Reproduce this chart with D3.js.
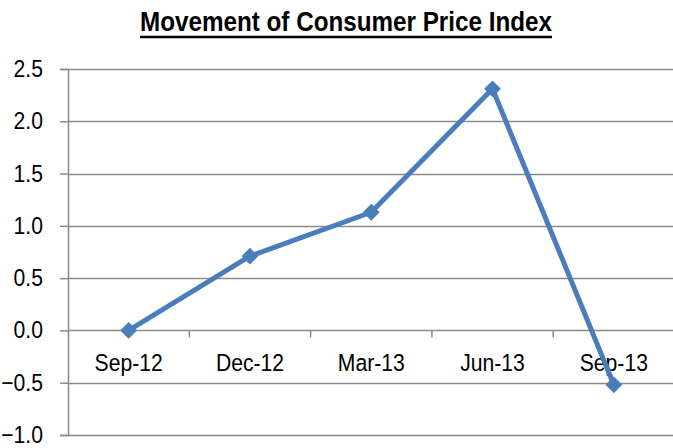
<!DOCTYPE html>
<html>
<head>
<meta charset="utf-8">
<script src="https://cdn.jsdelivr.net/npm/d3@7"></script>
<style>
  html, body { margin: 0; padding: 0; background: #fff; }
  svg { display: block; }
  text { font-family: "Liberation Sans Narrow", "Arial Narrow", "Liberation Sans", sans-serif; fill: #000; }
</style>
</head>
<body>
<svg id="chart" width="673" height="448"></svg>
<script>
const title = "Movement of Consumer Price Index";
const categories = ["Sep-12", "Dec-12", "Mar-13", "Jun-13", "Sep-13"];
const values = [0.0, 0.71, 1.13, 2.31, -0.52];
const yTicks = [-1.0, -0.5, 0.0, 0.5, 1.0, 1.5, 2.0, 2.5];

const svg = d3.select("#chart");
const W = 673, H = 448;
const mLeft = 68, mRight = 674.5, mTop = 69, mBottom = 435;
const sx = 0.9;       // horizontal condensing of label glyphs
const fs = 23.5;

const x = d3.scaleBand().domain(categories).range([mLeft, mRight]).padding(0);
const y = d3.scaleLinear().domain([-1.0, 2.5]).range([mBottom, mTop]);

const grid = "#8a8a8a";

// gridlines
svg.append("g").selectAll("line").data(yTicks).join("line")
  .attr("x1", mLeft).attr("x2", W)
  .attr("y1", d => Math.round(y(d)) + 0.5).attr("y2", d => Math.round(y(d)) + 0.5)
  .attr("stroke", grid).attr("stroke-width", 1.5);

// y axis
const yAxis = d3.axisLeft(y).tickValues(yTicks).tickFormat(d3.format(".1f")).tickSize(8).tickPadding(17);
const gy = svg.append("g").attr("transform", `translate(${mLeft},0)`).call(yAxis);
gy.select(".domain").attr("stroke", grid).attr("stroke-width", 1.5);
gy.selectAll(".tick line").attr("stroke", grid).attr("stroke-width", 1.5);
gy.selectAll(".tick text")
  .attr("font-size", fs).attr("fill", "#000")
  .attr("x", -25 / sx).attr("transform", `scale(${sx},1)`);

// x axis at zero, ticks at band boundaries
const y0 = Math.round(y(0)) + 0.5;
const xAxis = d3.axisBottom(x).tickSize(0).tickPadding(24);
const gx = svg.append("g").attr("transform", `translate(0,${y0})`).call(xAxis);
gx.select(".domain").remove();
gx.selectAll(".tick text")
  .attr("font-size", fs).attr("fill", "#000")
  .attr("transform", `scale(${sx},1)`);
svg.append("g").selectAll("line").data(categories.slice(1)).join("line")
  .attr("x1", d => x(d)).attr("x2", d => x(d))
  .attr("y1", y0).attr("y2", y0 + 7)
  .attr("stroke", grid).attr("stroke-width", 1.5);

// line
const blue = "#4a7ebb";
const pts = categories.map((c, i) => [x(c) + x.bandwidth() / 2, y(values[i])]);
svg.append("path").datum(pts)
  .attr("d", d3.line())
  .attr("fill", "none").attr("stroke", blue).attr("stroke-width", 5).attr("stroke-linejoin", "round");

// diamond markers
const sym = d3.symbol().type(d3.symbolDiamond2).size(180);
svg.append("g").selectAll("path").data(pts).join("path")
  .attr("transform", d => `translate(${d[0]},${d[1]})`)
  .attr("d", sym).attr("fill", blue);

// title
svg.append("text").attr("x", 346).attr("y", 31)
  .attr("text-anchor", "middle").attr("font-size", 27).attr("font-weight", "bold")
  .attr("textLength", 412).attr("lengthAdjust", "spacingAndGlyphs")
  .text(title);
svg.append("line").attr("x1", 140).attr("x2", 552).attr("y1", 37).attr("y2", 37)
  .attr("stroke", "#000").attr("stroke-width", 2.5);
</script>
</body>
</html>
